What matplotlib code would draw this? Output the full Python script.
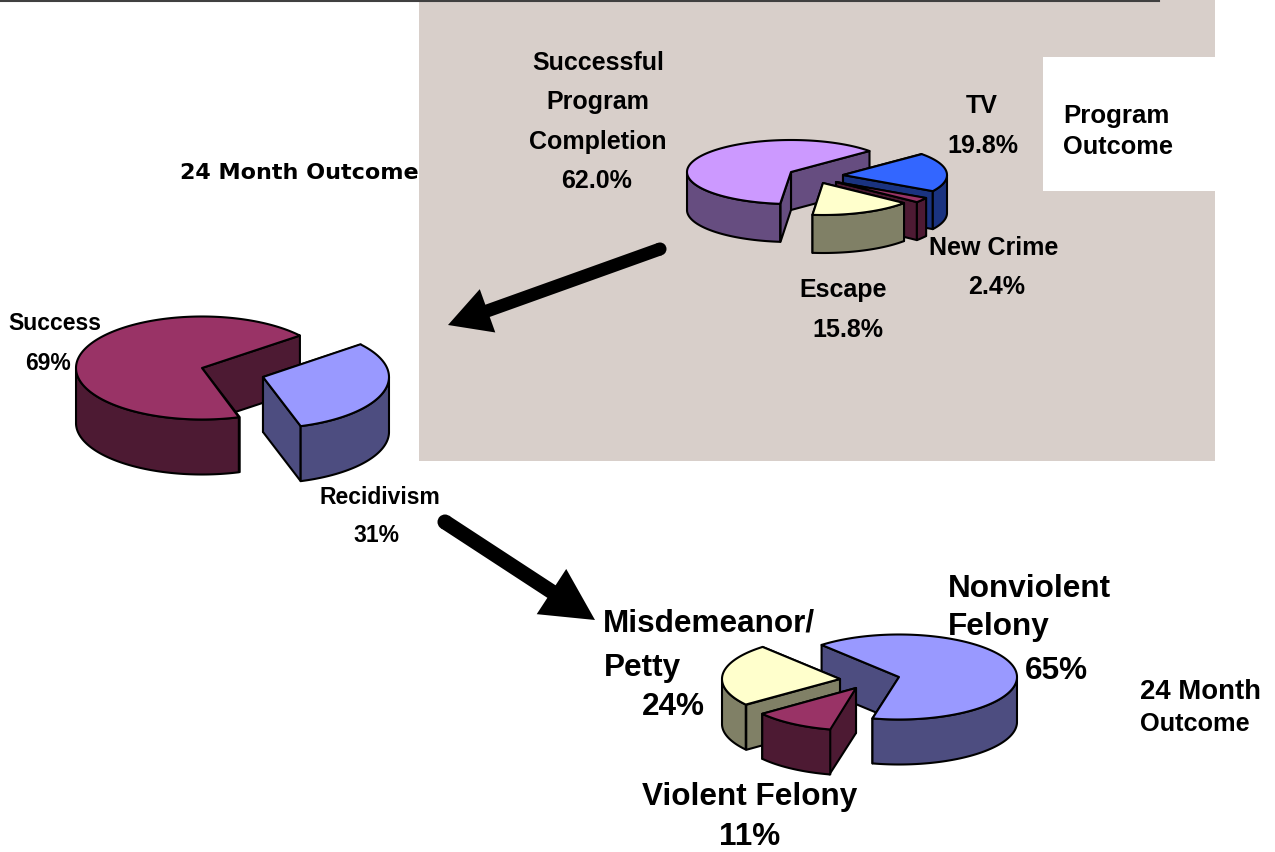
#!/usr/bin/python3

import numpy as np
import matplotlib
matplotlib.use("Agg")
import matplotlib.pyplot as plt
from matplotlib.patches import FancyArrow, Circle, Polygon, Rectangle

plt.rcParams["font.family"] = ["Liberation Sans", "DejaVu Sans"]

# slice shares in percent, counter clockwise on screen
program_labels = ["Successful Program Completion", "Escape", "New Crime", "TV"]
program_values = [62.0, 15.8, 2.4, 19.8]

month_labels = ["Success", "Recidivism"]
month_values = [69, 31]

recid_labels = ["Nonviolent Felony", "Misdemeanor/Petty", "Violent Felony"]
recid_values = [65, 24, 11]

PURPLE = ("#CC99FF", "#664D80")
YELLOW = ("#FFFFCC", "#808066")
MAROON = ("#993366", "#4D1A33")
BLUE = ("#3366FF", "#1A3380")
PERI = ("#9999FF", "#4D4D80")


def slice_3d(ax, apex, a, b, depth, t1, t2, colors, order):
    """one exploded slice: t1, t2 in degrees on the ellipse, y axis points down"""
    top, dark = colors
    ts = np.radians(np.arange(t1, t2 + 0.5, 1.0))
    xs = apex[0] + a * np.cos(ts)
    ys = apex[1] - b * np.sin(ts)

    def radial(t):
        r = np.radians(t)
        px, py = apex[0] + a * np.cos(r), apex[1] - b * np.sin(r)
        return [apex, (px, py), (px, py + depth), (apex[0], apex[1] + depth)]

    style = dict(edgecolor="black", linewidth=1.5, joinstyle="round", zorder=order)
    # far face first, the near one paints over it
    faces = sorted([t1, t2], key=lambda t: -np.sin(np.radians(t)))
    for t in faces:
        ax.add_patch(Polygon(radial(t), closed=True, facecolor=dark, **style))

    # the part of the rim that faces the viewer
    low = np.sin(ts) < 0
    if low.any():
        idx = np.where(low)[0]
        # split where the lower part wraps round
        for run in np.split(idx, np.where(np.diff(idx) > 1)[0] + 1):
            rx, ry = xs[run], ys[run]
            pts = list(zip(rx, ry)) + list(zip(rx[::-1], ry[::-1] + depth))
            ax.add_patch(Polygon(pts, closed=True, facecolor=dark, **style))

    pts = [apex] + list(zip(xs, ys))
    ax.add_patch(Polygon(pts, closed=True, facecolor=top, **style))


def draw_pie(ax, values, start, a, b, depth, apexes, colors, orders):
    spans = []
    t = start
    for v in values:
        spans.append((t, t + v / sum(values) * 360))
        t = spans[-1][1]
    for i in np.argsort(orders):
        slice_3d(ax, apexes[i], a, b, depth, spans[i][0], spans[i][1], colors[i], orders[i] + 5)


def arrow(ax, tail, tip, width, head_w, head_l):
    ax.add_patch(FancyArrow(tail[0], tail[1], tip[0] - tail[0], tip[1] - tail[1], width=width,
                            head_width=head_w, head_length=head_l, length_includes_head=True,
                            facecolor="black", edgecolor="none", zorder=3))
    ax.add_patch(Circle(tail, width / 2, facecolor="black", edgecolor="none", zorder=3))


def main():
    fig = plt.figure(figsize=(12.75, 8.52), dpi=100)
    ax = fig.add_axes([0, 0, 1, 1])
    ax.set_xlim(0, 1275)
    ax.set_ylim(852, 0)
    ax.axis("off")

    ax.add_patch(Rectangle((419, 0), 796, 461, facecolor="#D8CFCA", edgecolor="none", zorder=1))
    ax.add_patch(Rectangle((1043, 57), 172, 134, facecolor="white", edgecolor="none", zorder=1))
    ax.plot([0, 1159], [0.5, 0.5], color="#404040", linewidth=1.5, zorder=2)

    draw_pie(ax, program_values, 41, 104, 32, 38,
             [(791, 172), (823, 183), (836, 182), (843, 175)],
             [PURPLE, YELLOW, MAROON, BLUE], [0, 3, 2, 1])
    draw_pie(ax, month_values, 39, 126, 51.5, 55,
             [(202, 368), (263, 377)],
             [MAROON, PERI], [0, 1])
    draw_pie(ax, recid_values, -103, 118, 42.5, 45,
             [(899, 677), (840, 679), (856, 688)],
             [PERI, YELLOW, MAROON], [0, 1, 2])

    arrow(ax, (660, 249), (448, 325), 13, 46, 42)
    arrow(ax, (445, 522), (595, 620), 15, 54, 52)

    bold = dict(fontweight="bold", color="black", ha="center", va="center", zorder=20)
    for txt, x, y in [("Successful", 598, 63), ("Program", 598, 102), ("Completion", 598, 142),
                      ("62.0%", 597, 181), ("TV", 982, 106), ("19.8%", 983, 146),
                      ("New Crime", 994, 248), ("2.4%", 997, 287), ("Escape", 843, 290),
                      ("15.8%", 848, 330)]:
        ax.text(x, y, txt, fontsize=18, **bold)
    for txt, x, y in [("Success", 55, 324), ("69%", 48, 364), ("Recidivism", 380, 498),
                      ("31%", 376, 536)]:
        ax.text(x, y, txt, fontsize=16.5, **bold)
    for txt, x, y in [("Nonviolent", 1029, 589), ("Felony", 999, 627), ("65%", 1056, 671),
                      ("Misdemeanor/", 709, 624), ("Petty", 642, 668), ("24%", 673, 707),
                      ("Violent Felony", 750, 797), ("11%", 750, 837)]:
        ax.text(x, y, txt, fontsize=22.7, **bold)

    ax.text(180, 173, "24 Month Outcome", fontsize=16, family="DejaVu Sans", fontweight="bold",
            ha="left", va="center", zorder=20)
    small = dict(fontweight="bold", ha="left", va="center", zorder=20)
    ax.text(1063, 116, "Program", fontsize=18.6, **small)
    ax.text(1063, 147, "Outcome", fontsize=18.3, **small)
    ax.text(1140, 692, "24 Month", fontsize=19.8, **small)
    ax.text(1140, 724, "Outcome", fontsize=18.2, **small)

    fig.savefig("out.png", dpi=100)


if __name__ == "__main__":
    main()
